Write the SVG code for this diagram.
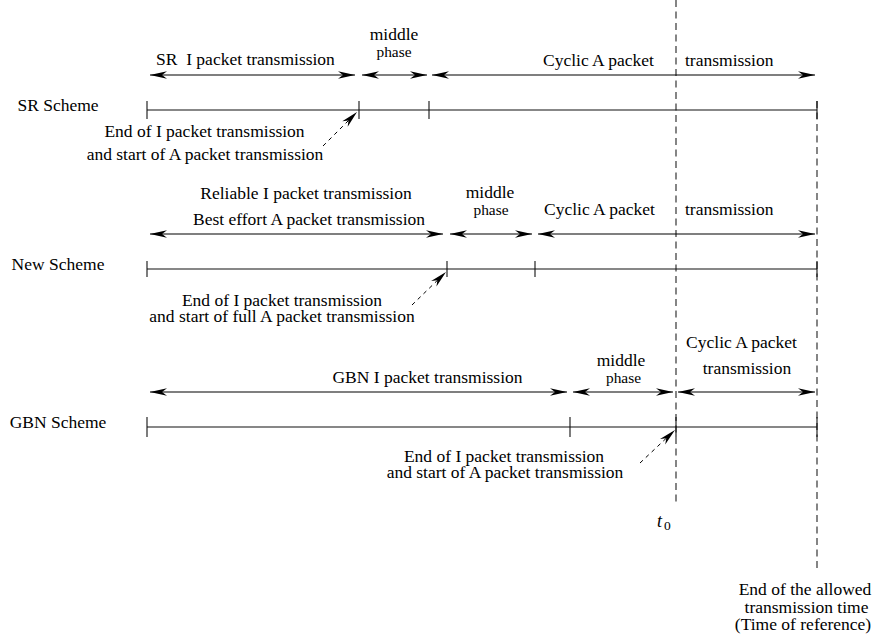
<svg xmlns="http://www.w3.org/2000/svg" width="874" height="638" viewBox="0 0 874 638">
  <style>
    text { font-family: "Liberation Serif", "Times New Roman", serif; font-size: 17.5px; fill: #000; }
    .mid { text-anchor: middle; }
    .small { font-size: 15.4px; }
    .axis { stroke: #111; stroke-width: 1.1; fill: none; }
    .tick { stroke: #111; stroke-width: 1.1; }
    .span { stroke: #000; stroke-width: 1.1; fill: none; marker-start: url(#head); marker-end: url(#head); }
    .ptr { stroke: #000; stroke-width: 1; stroke-dasharray: 4 4; fill: none; marker-end: url(#head); }
    .guide { stroke: #222; stroke-width: 1.1; stroke-dasharray: 7 4.5; fill: none; }
  </style>
  <defs>
    <marker id="head" viewBox="-17 -4.5 18 9" refX="0" refY="0" markerWidth="18" markerHeight="9" markerUnits="userSpaceOnUse" orient="auto-start-reverse">
      <path d="M0,0 L-17,-3.8 L-12,0 L-17,3.8 Z" fill="#000"/>
    </marker>
  </defs>
  <rect width="874" height="638" fill="#fff"/>

  <!-- vertical reference lines -->
  <g id="guides">
    <line class="guide" x1="676" y1="0" x2="676" y2="505"/>
    <line class="guide" x1="817" y1="101" x2="817" y2="570"/>
  </g>

  <!-- SR scheme -->
  <g id="sr-scheme">
    <text x="58" y="111" class="mid">SR Scheme</text>
    <line class="axis" x1="147" y1="110" x2="817" y2="110"/>
    <line class="tick" x1="147" y1="101" x2="147" y2="119"/>
    <line class="tick" x1="359" y1="101" x2="359" y2="119"/>
    <line class="tick" x1="429" y1="101" x2="429" y2="119"/>
    <line class="tick" x1="817" y1="101" x2="817" y2="119"/>
    <text x="156" y="65" style="white-space:pre">SR  I packet transmission</text>
    <text x="394" y="40" class="mid">middle</text>
    <text x="394" y="57" class="mid small">phase</text>
    <text x="543" y="66">Cyclic A packet</text>
    <text x="685" y="66">transmission</text>
    <text x="204.5" y="137" class="mid">End of I packet transmission</text>
    <text x="205" y="160" class="mid">and start of A packet transmission</text>
  </g>

  <!-- New scheme -->
  <g id="new-scheme">
    <text x="58" y="270" class="mid">New Scheme</text>
    <line class="axis" x1="147" y1="269" x2="817" y2="269"/>
    <line class="tick" x1="147" y1="261" x2="147" y2="277"/>
    <line class="tick" x1="447" y1="261" x2="447" y2="277"/>
    <line class="tick" x1="535" y1="261" x2="535" y2="277"/>
    <line class="tick" x1="817" y1="261" x2="817" y2="277"/>
    <text x="306" y="199" class="mid">Reliable I packet transmission</text>
    <text x="309" y="225" class="mid">Best effort A packet transmission</text>
    <text x="490" y="198" class="mid">middle</text>
    <text x="491" y="215" class="mid small">phase</text>
    <text x="544" y="215">Cyclic A packet</text>
    <text x="685" y="215">transmission</text>
    <text x="282" y="306" class="mid">End of I packet transmission</text>
    <text x="282" y="322" class="mid">and start of full A packet transmission</text>
  </g>

  <!-- GBN scheme -->
  <g id="gbn-scheme">
    <text x="58" y="428" class="mid">GBN Scheme</text>
    <line class="axis" x1="147" y1="427" x2="817" y2="427"/>
    <line class="tick" x1="147" y1="417" x2="147" y2="437"/>
    <line class="tick" x1="570" y1="417" x2="570" y2="437"/>
    <line class="tick" x1="676" y1="417" x2="676" y2="437"/>
    <line class="tick" x1="817" y1="417" x2="817" y2="437"/>
    <text x="427.5" y="383" class="mid">GBN I packet transmission</text>
    <text x="621" y="366" class="mid">middle</text>
    <text x="623.5" y="383" class="mid small">phase</text>
    <text x="741.5" y="348" class="mid">Cyclic A packet</text>
    <text x="747" y="374" class="mid">transmission</text>
    <text x="504" y="462" class="mid">End of I packet transmission</text>
    <text x="505" y="478" class="mid">and start of A packet transmission</text>
  </g>

  <!-- time labels -->
  <g id="t0-label">
    <text x="657" y="527" style="font-style:italic;font-size:18px">t</text>
    <text x="664" y="530" style="font-size:13.5px">0</text>
  </g>
  <g id="deadline-label">
    <text x="805" y="595" class="mid">End of the allowed</text>
    <text x="806.5" y="613" class="mid">transmission time</text>
    <text x="803" y="630" class="mid">(Time of reference)</text>
  </g>

  <!-- duration arrows and pointers -->
  <g id="connectors">
    <line class="span" x1="150" y1="75" x2="355" y2="75"/>
    <line class="span" x1="362" y1="75" x2="427" y2="75"/>
    <line class="span" x1="432" y1="75" x2="815" y2="75"/>
    <line class="span" x1="150" y1="234" x2="443" y2="234"/>
    <line class="span" x1="450" y1="234" x2="532" y2="234"/>
    <line class="span" x1="538" y1="234" x2="815" y2="234"/>
    <line class="span" x1="150" y1="392" x2="567" y2="392"/>
    <line class="span" x1="573" y1="392" x2="673" y2="392"/>
    <line class="span" x1="678" y1="392" x2="815" y2="392"/>
    <line class="ptr" x1="323" y1="146" x2="357" y2="112"/>
    <line class="ptr" x1="412" y1="305" x2="446" y2="272"/>
    <line class="ptr" x1="640" y1="463" x2="675" y2="430"/>
  </g>
</svg>
